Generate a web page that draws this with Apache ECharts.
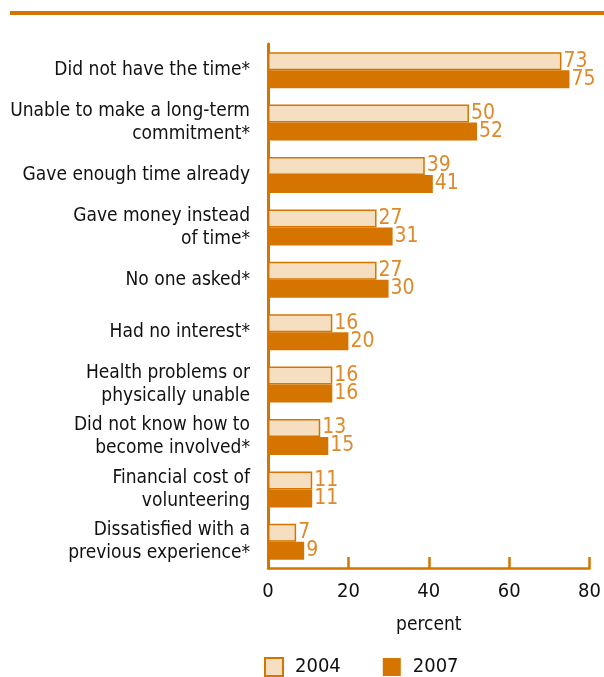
<!DOCTYPE html>
<html>
<head>
<meta charset="utf-8">
<script src="https://cdn.jsdelivr.net/npm/echarts@6/dist/echarts.min.js"></script>
<style>
  html, body { margin: 0; padding: 0; background: #fff; }
  #chart { width: 604px; height: 677px; }
</style>
</head>
<body>
<div id="chart"></div>
<script>
// categories top to bottom
const categories = [
  'Did not have the time*',
  'Unable to make a long-term\ncommitment*',
  'Gave enough time already',
  'Gave money instead\nof time*',
  'No one asked*',
  'Had no interest*',
  'Health problems or\nphysically unable',
  'Did not know how to\nbecome involved*',
  'Financial cost of\nvolunteering',
  'Dissatisfied with a\nprevious experience*'
]
const values2004 = [73, 50, 39, 27, 27, 16, 16, 13, 11, 7]
const values2007 = [75, 52, 41, 31, 30, 20, 16, 15, 11, 9]
const xTicks = [0, 20, 40, 60, 80]

const orange = '#d57500'
const beige = '#f5dfc0'
const labelOrange = '#de8a2a'
const font = '"Liberation Sans Narrow", "DejaVu Sans Condensed", "Liberation Sans", sans-serif'

const chart = echarts.init(document.getElementById('chart'))
chart.setOption({
  animation: false,
  textStyle: { fontFamily: font },
  graphic: [
    // orange rule across the top
    { type: 'rect', shape: { x: 10, y: 11, width: 594, height: 4 }, style: { fill: orange } }
  ],
  grid: { left: 268, right: 14, top: 44, bottom: 109 },
  legend: {
    top: 652,
    left: 259,
    icon: 'rect',
    itemWidth: 18,
    itemHeight: 18,
    itemGap: 42,
    textStyle: { fontSize: 20, color: '#111', fontFamily: font, padding: [0, 0, 0, 7] },
    data: ['2004', '2007']
  },
  xAxis: {
    type: 'value',
    min: xTicks[0],
    max: xTicks[xTicks.length - 1],
    interval: 20,
    name: 'percent',
    nameLocation: 'middle',
    nameGap: 48,
    nameTextStyle: { fontSize: 19, color: '#111', fontFamily: font },
    axisLine: { show: true, lineStyle: { color: orange, width: 2.5 } },
    axisTick: { show: true, inside: true, length: 11, lineStyle: { color: orange, width: 2.5 } },
    axisLabel: { fontSize: 20, color: '#111', margin: 14, fontFamily: font },
    splitLine: { show: false }
  },
  yAxis: {
    type: 'category',
    inverse: true,
    data: categories,
    axisLine: { show: true, lineStyle: { color: orange, width: 3 } },
    axisTick: { show: false },
    axisLabel: {
      fontSize: 19, color: '#111', margin: 18, lineHeight: 23,
      align: 'right', fontFamily: font, interval: 0
    }
  },
  series: [
    {
      name: '2004',
      type: 'bar',
      data: values2004,
      barWidth: 18,
      barGap: '0%',
      itemStyle: { color: beige, borderColor: orange, borderWidth: 1.5 },
      label: { show: true, position: 'right', distance: 2, fontSize: 21, color: labelOrange, fontFamily: font }
    },
    {
      name: '2007',
      type: 'bar',
      data: values2007,
      barWidth: 18,
      itemStyle: { color: orange },
      label: { show: true, position: 'right', distance: 2, fontSize: 21, color: labelOrange, fontFamily: font }
    }
  ]
})
</script>
</body>
</html>
